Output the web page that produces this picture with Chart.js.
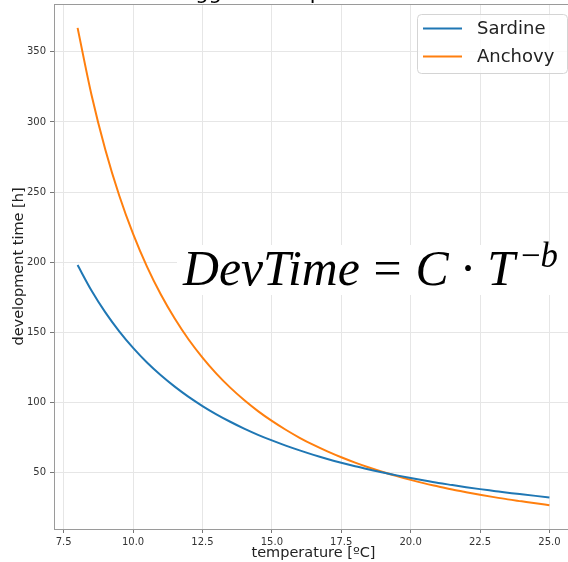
<!DOCTYPE html>
<html>
<head>
<meta charset="utf-8">
<script src="https://cdn.jsdelivr.net/npm/chart.js@4.4.0/dist/chart.umd.min.js"></script>
<style>
    html, body { margin: 0; padding: 0; overflow: hidden; background: #fff; }
    #wrap { position: absolute; left: 0; top: 0; width: 580px; height: 562px; }
</style>
</head>
<body>
<div id="wrap"><canvas id="devChart" width="580" height="562"></canvas></div>
<script>
// values
var temperature = [8.0, 8.5, 9.0, 9.5, 10.0, 10.5, 11.0, 11.5, 12.0, 12.5, 13.0, 13.5, 14.0, 14.5, 15.0, 15.5, 16.0, 16.5,
    17.0, 17.5, 18.0, 18.5, 19.0, 19.5, 20.0, 20.5, 21.0, 21.5, 22.0, 22.5, 23.0, 23.5, 24.0, 24.5, 25.0];
var sardine = [198, 179.9, 164.3, 150.8, 139.0, 128.6, 119.5, 111.4, 104.1, 97.6, 91.7, 86.4, 81.5, 77.1, 73.1, 69.4, 66.0, 62.8,
    59.9, 57.2, 54.7, 52.4, 50.2, 48.2, 46.3, 44.5, 42.8, 41.3, 39.8, 38.4, 37.1, 35.8, 34.7, 33.6, 32.5];
var anchovy = [367, 319.4, 280.2, 247.6, 220.2, 196.9, 177.0, 159.9, 145.0, 132.1, 120.7, 110.7, 101.9, 94.0, 87.0, 80.7, 75.0, 69.9,
    65.3, 61.1, 57.3, 53.8, 50.6, 47.7, 45.0, 42.5, 40.3, 38.1, 36.2, 34.4, 32.7, 31.1, 29.7, 28.3, 27.0];
var xTickValues = [7.5, 10.0, 12.5, 15.0, 17.5, 20.0, 22.5, 25.0];
var yTickValues = [50, 100, 150, 200, 250, 300, 350];
var seriesNames = ['Sardine', 'Anchovy'];
var seriesColors = ['#1f77b4', '#ff7f0e'];
var titleText = 'Eggs development time';

var gridColor = '#e6e6e6';
var spineColor = '#9a9a9a';
var fontName = '"DejaVu Sans", sans-serif';

function toPoints(xs, ys) {
    return xs.map(function (x, i) {
        return { x: x, y: ys[i] };
    });
}

// title (mostly above the picture), top spine, legend and the formula box
var extrasPlugin = {
    id: 'extras',
    afterDraw: function (chart) {
        var ctx = chart.ctx;
        var area = chart.chartArea;
        ctx.save();

        ctx.strokeStyle = spineColor;
        ctx.lineWidth = 1;
        ctx.beginPath();
        ctx.moveTo(area.left, area.top + 0.5);
        ctx.lineTo(area.right, area.top + 0.5);
        ctx.stroke();

        ctx.fillStyle = '#000';
        ctx.font = '21px ' + fontName;
        ctx.textAlign = 'left';
        ctx.textBaseline = 'alphabetic';
        ctx.fillText(titleText, 182, -1.5);

        // formula
        ctx.fillStyle = '#fff';
        ctx.fillRect(177, 245, 420, 50);
        var big = 50, small = 35;
        var serif = '"Liberation Serif", "DejaVu Serif", serif';
        var parts = [
            { t: 'DevTime', it: true, size: big, rise: 0, gap: 0 },
            { t: '=', it: false, size: big, rise: 0, gap: big * 5 / 18 },
            { t: 'C', it: true, size: big, rise: 0, gap: big * 5 / 18 },
            { t: '\u00b7', it: false, size: big, rise: 0, gap: big * 4 / 18 },
            { t: 'T', it: true, size: big, rise: 0, gap: big * 4 / 18 },
            { t: '\u2212', it: false, size: small, rise: 18, gap: 6 },
            { t: 'b', it: true, size: small, rise: 18, gap: 0 }
        ];
        var total = 0;
        parts.forEach(function (p) {
            ctx.font = (p.it ? 'italic ' : '') + p.size + 'px ' + serif;
            p.w = ctx.measureText(p.t).width;
            total += p.gap + p.w;
        });
        var sx = (558 - 183) / total;
        ctx.translate(183, 285);
        ctx.scale(sx, 1);
        ctx.fillStyle = '#000';
        var cx = 0;
        parts.forEach(function (p) {
            cx += p.gap;
            ctx.font = (p.it ? 'italic ' : '') + p.size + 'px ' + serif;
            ctx.fillText(p.t, cx, -p.rise);
            cx += p.w;
        });
        ctx.restore();

        // legend
        ctx.save();
        ctx.fillStyle = 'rgba(255,255,255,0.8)';
        ctx.strokeStyle = '#d4d4d4';
        ctx.lineWidth = 1;
        ctx.beginPath();
        ctx.roundRect(417.5, 14.5, 150, 59, 4);
        ctx.fill();
        ctx.stroke();
        ctx.font = '18px ' + fontName;
        ctx.textBaseline = 'middle';
        ctx.textAlign = 'left';
        chart.data.datasets.forEach(function (ds, i) {
            var y = 28.5 + i * 28;
            ctx.strokeStyle = ds.borderColor;
            ctx.lineWidth = 2;
            ctx.beginPath();
            ctx.moveTo(423, y);
            ctx.lineTo(462, y);
            ctx.stroke();
            ctx.fillStyle = '#222';
            ctx.fillText(ds.label, 477, y + 1);
        });
        ctx.restore();
    }
};

var ctx = document.getElementById('devChart').getContext('2d');
var devChart = new Chart(ctx, {
    type: 'line',
    data: {
        datasets: [{
            label: seriesNames[0],
            data: toPoints(temperature, sardine),
            borderColor: seriesColors[0],
            borderWidth: 2,
            pointRadius: 0,
            cubicInterpolationMode: 'monotone'
        }, {
            label: seriesNames[1],
            data: toPoints(temperature, anchovy),
            borderColor: seriesColors[1],
            borderWidth: 2,
            pointRadius: 0,
            cubicInterpolationMode: 'monotone'
        }]
    },
    options: {
        responsive: false,
        animation: false,
        devicePixelRatio: 1,
        layout: { autoPadding: false, padding: { left: 0, right: 7, top: 4, bottom: 0 } },
        plugins: {
            legend: { display: false },
            tooltip: { enabled: false }
        },
        scales: {
            x: {
                type: 'linear',
                min: 7.15,
                max: 25.85,
                afterBuildTicks: function (scale) {
                    scale.ticks = xTickValues.map(function (v) { return { value: v }; });
                },
                afterFit: function (scale) {
                    scale.height = 33;
                    scale.paddingLeft = 0;
                    scale.paddingRight = 0;
                },
                ticks: {
                    callback: function (v) { return v.toFixed(1); },
                    font: { family: fontName, size: 10 },
                    color: '#333',
                    padding: 3,
                    maxRotation: 0,
                    autoSkip: false
                },
                grid: { color: gridColor, tickColor: '#777', tickLength: 4 },
                border: { color: spineColor, width: 1 },
                title: {
                    display: true,
                    text: 'temperature [ºC]',
                    font: { family: fontName, size: 14.5 },
                    color: '#222',
                    padding: { top: 0, bottom: 0 }
                }
            },
            y: {
                type: 'linear',
                min: 10,
                max: 384,
                afterBuildTicks: function (scale) {
                    scale.ticks = yTickValues.map(function (v) { return { value: v }; });
                },
                afterFit: function (scale) {
                    scale.width = 54;
                    scale.paddingTop = 0;
                    scale.paddingBottom = 0;
                },
                ticks: {
                    font: { family: fontName, size: 10 },
                    color: '#333',
                    padding: 4
                },
                grid: { color: gridColor, tickColor: '#777', tickLength: 4 },
                border: { color: spineColor, width: 1 },
                title: {
                    display: true,
                    text: 'development time [h]',
                    font: { family: fontName, size: 14.5 },
                    color: '#222',
                    padding: { top: 11, bottom: 0 }
                }
            }
        }
    },
    plugins: [extrasPlugin]
});
</script>
</body>
</html>
